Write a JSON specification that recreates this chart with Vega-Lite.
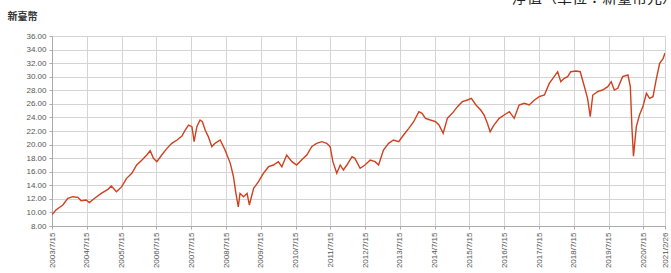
{
  "$schema": "https://vega.github.io/schema/vega-lite/v6.json",
  "autosize": "none",
  "width": 613,
  "height": 190,
  "padding": {"left": 52, "top": 36, "right": 6, "bottom": 47},
  "background": "white",
  "title": {
    "text": "淨值（單位：新臺幣元）",
    "anchor": "end",
    "frame": "group",
    "offset": 5,
    "dx": 12,
    "fontSize": 15,
    "fontWeight": "normal",
    "font": "Noto Sans CJK TC",
    "color": "#222"
  },
  "config": {
    "view": {"stroke": null},
    "axis": {
      "labelFont": "Liberation Sans",
      "labelFontSize": 8,
      "labelColor": "#555",
      "gridColor": "#d4d4d4",
      "gridWidth": 1,
      "domainColor": "#aaa",
      "tickColor": "#aaa",
      "tickSize": 3
    }
  },
  "data": {
    "values": [
      {"date": "2003-07-15", "nav": 9.7},
      {"date": "2003-08-25", "nav": 10.36},
      {"date": "2003-11-06", "nav": 11.09},
      {"date": "2003-12-28", "nav": 12.08},
      {"date": "2004-02-17", "nav": 12.32},
      {"date": "2004-04-12", "nav": 12.22},
      {"date": "2004-05-15", "nav": 11.73},
      {"date": "2004-07-08", "nav": 11.83},
      {"date": "2004-08-10", "nav": 11.44},
      {"date": "2004-10-05", "nav": 12.08},
      {"date": "2004-12-13", "nav": 12.81},
      {"date": "2005-02-21", "nav": 13.4},
      {"date": "2005-03-29", "nav": 13.9},
      {"date": "2005-05-22", "nav": 13.06},
      {"date": "2005-07-16", "nav": 13.8},
      {"date": "2005-09-05", "nav": 15.02},
      {"date": "2005-10-30", "nav": 15.76},
      {"date": "2005-12-20", "nav": 16.99},
      {"date": "2006-02-14", "nav": 17.73},
      {"date": "2006-04-05", "nav": 18.46},
      {"date": "2006-05-11", "nav": 19.1},
      {"date": "2006-06-14", "nav": 17.97},
      {"date": "2006-07-20", "nav": 17.48},
      {"date": "2006-09-09", "nav": 18.46},
      {"date": "2006-11-03", "nav": 19.44},
      {"date": "2006-12-24", "nav": 20.18},
      {"date": "2007-02-17", "nav": 20.67},
      {"date": "2007-04-09", "nav": 21.26},
      {"date": "2007-05-15", "nav": 22.15},
      {"date": "2007-06-17", "nav": 22.88},
      {"date": "2007-07-23", "nav": 22.64},
      {"date": "2007-08-15", "nav": 20.43},
      {"date": "2007-09-13", "nav": 22.64},
      {"date": "2007-10-16", "nav": 23.62},
      {"date": "2007-11-10", "nav": 23.37},
      {"date": "2007-12-09", "nav": 22.15},
      {"date": "2008-01-11", "nav": 21.17},
      {"date": "2008-02-17", "nav": 19.69},
      {"date": "2008-03-21", "nav": 20.18},
      {"date": "2008-05-15", "nav": 20.67},
      {"date": "2008-07-05", "nav": 19.2},
      {"date": "2008-08-29", "nav": 17.23},
      {"date": "2008-10-01", "nav": 15.27},
      {"date": "2008-10-27", "nav": 12.81},
      {"date": "2008-11-21", "nav": 10.8},
      {"date": "2008-12-09", "nav": 12.81},
      {"date": "2009-01-15", "nav": 12.32},
      {"date": "2009-02-21", "nav": 12.81},
      {"date": "2009-03-17", "nav": 11.1},
      {"date": "2009-05-01", "nav": 13.55},
      {"date": "2009-06-21", "nav": 14.53},
      {"date": "2009-08-11", "nav": 15.76},
      {"date": "2009-10-05", "nav": 16.74},
      {"date": "2009-11-25", "nav": 16.99},
      {"date": "2010-01-15", "nav": 17.48},
      {"date": "2010-02-21", "nav": 16.74},
      {"date": "2010-04-13", "nav": 18.46},
      {"date": "2010-06-07", "nav": 17.48},
      {"date": "2010-07-27", "nav": 16.99},
      {"date": "2010-09-16", "nav": 17.73},
      {"date": "2010-11-10", "nav": 18.46},
      {"date": "2011-01-01", "nav": 19.69},
      {"date": "2011-02-21", "nav": 20.18},
      {"date": "2011-04-16", "nav": 20.43},
      {"date": "2011-06-07", "nav": 20.18},
      {"date": "2011-07-13", "nav": 19.69},
      {"date": "2011-08-11", "nav": 17.48},
      {"date": "2011-09-21", "nav": 15.76},
      {"date": "2011-10-27", "nav": 16.99},
      {"date": "2011-11-29", "nav": 16.25},
      {"date": "2012-01-05", "nav": 16.99},
      {"date": "2012-02-28", "nav": 18.22},
      {"date": "2012-03-29", "nav": 17.97},
      {"date": "2012-05-23", "nav": 16.5},
      {"date": "2012-07-13", "nav": 16.99},
      {"date": "2012-09-06", "nav": 17.73},
      {"date": "2012-10-27", "nav": 17.48},
      {"date": "2012-12-03", "nav": 16.99},
      {"date": "2013-01-23", "nav": 19.2},
      {"date": "2013-03-18", "nav": 20.18},
      {"date": "2013-05-08", "nav": 20.67},
      {"date": "2013-07-02", "nav": 20.43},
      {"date": "2013-08-22", "nav": 21.41},
      {"date": "2013-10-16", "nav": 22.39},
      {"date": "2013-12-06", "nav": 23.37},
      {"date": "2014-01-30", "nav": 24.85},
      {"date": "2014-03-04", "nav": 24.6},
      {"date": "2014-04-09", "nav": 23.87},
      {"date": "2014-05-30", "nav": 23.62},
      {"date": "2014-07-24", "nav": 23.37},
      {"date": "2014-08-29", "nav": 22.88},
      {"date": "2014-10-12", "nav": 21.66},
      {"date": "2014-11-25", "nav": 23.87},
      {"date": "2015-01-15", "nav": 24.6},
      {"date": "2015-03-11", "nav": 25.59},
      {"date": "2015-05-01", "nav": 26.32},
      {"date": "2015-06-25", "nav": 26.57},
      {"date": "2015-08-04", "nav": 26.81},
      {"date": "2015-09-21", "nav": 25.83},
      {"date": "2015-11-10", "nav": 25.09},
      {"date": "2015-12-16", "nav": 24.36},
      {"date": "2016-01-19", "nav": 23.13},
      {"date": "2016-02-17", "nav": 21.9},
      {"date": "2016-03-28", "nav": 22.88},
      {"date": "2016-05-22", "nav": 23.87},
      {"date": "2016-07-13", "nav": 24.36},
      {"date": "2016-09-06", "nav": 24.85},
      {"date": "2016-10-27", "nav": 23.87},
      {"date": "2016-12-17", "nav": 25.83},
      {"date": "2017-02-10", "nav": 26.08},
      {"date": "2017-04-02", "nav": 25.83},
      {"date": "2017-05-27", "nav": 26.57},
      {"date": "2017-07-17", "nav": 27.06},
      {"date": "2017-09-09", "nav": 27.3},
      {"date": "2017-10-30", "nav": 29.02},
      {"date": "2017-12-20", "nav": 30.01},
      {"date": "2018-01-26", "nav": 30.74},
      {"date": "2018-02-28", "nav": 29.27},
      {"date": "2018-04-05", "nav": 29.76},
      {"date": "2018-05-11", "nav": 30.01},
      {"date": "2018-06-13", "nav": 30.74},
      {"date": "2018-08-07", "nav": 30.84},
      {"date": "2018-09-20", "nav": 30.74},
      {"date": "2018-11-03", "nav": 28.53},
      {"date": "2018-12-06", "nav": 26.81},
      {"date": "2019-01-03", "nav": 24.11},
      {"date": "2019-01-30", "nav": 27.3},
      {"date": "2019-03-22", "nav": 27.8},
      {"date": "2019-05-12", "nav": 28.04},
      {"date": "2019-07-06", "nav": 28.53},
      {"date": "2019-08-11", "nav": 29.27},
      {"date": "2019-09-13", "nav": 28.04},
      {"date": "2019-10-19", "nav": 28.29},
      {"date": "2019-12-09", "nav": 30.01},
      {"date": "2020-02-03", "nav": 30.25},
      {"date": "2020-02-28", "nav": 28.53},
      {"date": "2020-03-17", "nav": 22.15},
      {"date": "2020-04-01", "nav": 18.3},
      {"date": "2020-05-01", "nav": 22.64},
      {"date": "2020-06-03", "nav": 24.36},
      {"date": "2020-07-09", "nav": 25.59},
      {"date": "2020-08-15", "nav": 27.55},
      {"date": "2020-09-17", "nav": 26.81},
      {"date": "2020-10-23", "nav": 27.06},
      {"date": "2020-11-25", "nav": 29.52},
      {"date": "2021-01-01", "nav": 31.97},
      {"date": "2021-02-07", "nav": 32.71},
      {"date": "2021-02-26", "nav": 33.5}
    ]
  },
  "mark": {"type": "line", "color": "#d0401f", "strokeWidth": 1.4, "clip": true},
  "encoding": {
    "x": {
      "field": "date",
      "type": "temporal",
      "scale": {
        "type": "utc",
        "domain": [
          {"year": 2003, "month": 7, "date": 15, "utc": true},
          {"year": 2021, "month": 2, "date": 26, "utc": true}
        ]
      },
      "axis": {
        "title": null,
        "values": [
          {"year": 2003, "month": 7, "date": 15, "utc": true},
          {"year": 2004, "month": 7, "date": 15, "utc": true},
          {"year": 2005, "month": 7, "date": 15, "utc": true},
          {"year": 2006, "month": 7, "date": 15, "utc": true},
          {"year": 2007, "month": 7, "date": 15, "utc": true},
          {"year": 2008, "month": 7, "date": 15, "utc": true},
          {"year": 2009, "month": 7, "date": 15, "utc": true},
          {"year": 2010, "month": 7, "date": 15, "utc": true},
          {"year": 2011, "month": 7, "date": 15, "utc": true},
          {"year": 2012, "month": 7, "date": 15, "utc": true},
          {"year": 2013, "month": 7, "date": 15, "utc": true},
          {"year": 2014, "month": 7, "date": 15, "utc": true},
          {"year": 2015, "month": 7, "date": 15, "utc": true},
          {"year": 2016, "month": 7, "date": 15, "utc": true},
          {"year": 2017, "month": 7, "date": 15, "utc": true},
          {"year": 2018, "month": 7, "date": 15, "utc": true},
          {"year": 2019, "month": 7, "date": 15, "utc": true},
          {"year": 2020, "month": 7, "date": 15, "utc": true},
          {"year": 2021, "month": 2, "date": 26, "utc": true}
        ],
        "labelExpr": "utcFormat(datum.value, '%Y/%-m/%-d')",
        "labelAngle": -90,
        "labelOverlap": false,
        "labelPadding": 3,
        "grid": true
      }
    },
    "y": {
      "field": "nav",
      "type": "quantitative",
      "scale": {"domain": [8, 36], "nice": false, "zero": false},
      "axis": {
        "values": [8, 10, 12, 14, 16, 18, 20, 22, 24, 26, 28, 30, 32, 34, 36],
        "format": ".2f",
        "grid": true,
        "labelPadding": 3,
        "title": "新臺幣",
        "titleAngle": 0,
        "titleX": -30,
        "titleY": -20,
        "titleAlign": "center",
        "titleBaseline": "middle",
        "titleFont": "Noto Sans CJK TC",
        "titleFontSize": 10,
        "titleFontWeight": "bold",
        "titleColor": "#333"
      }
    }
  }
}
